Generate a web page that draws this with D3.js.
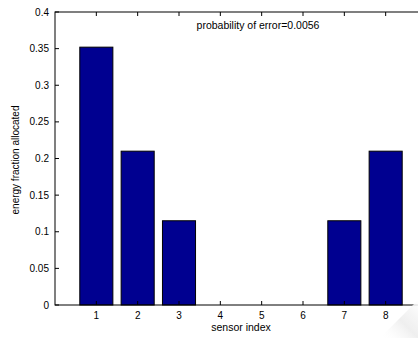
<!DOCTYPE html>
<html><head><meta charset="utf-8">
<script src="https://cdn.jsdelivr.net/npm/d3@7/dist/d3.min.js"></script>
<style>body{margin:0;background:#fff;overflow:hidden}svg{display:block}text{font-family:"Liberation Sans",Arial,sans-serif;fill:#000}</style>
</head><body>
<script>
const sensors = [1,2,3,4,5,6,7,8];
const energy = [0.352,0.21,0.115,0,0,0,0.115,0.21];
const yTicks = [0,0.05,0.1,0.15,0.2,0.25,0.3,0.35,0.4];
const yTickLabels = ["0","0.05","0.1","0.15","0.2","0.25","0.3","0.35","0.4"];
const title = "probability of error=0.0056";
const xLabel = "sensor index";
const yLabel = "energy fraction allocated";

const W=418,H=338;
const svg=d3.select("body").append("svg").attr("width",W).attr("height",H);
const x=d3.scaleLinear().domain([0,9]).range([55,427]);
const y=d3.scaleLinear().domain([0,0.4]).range([305,12]);
const bw=x(0.8)-x(0);

svg.append("g").selectAll("rect").data(sensors).join("rect")
  .attr("x",d=>x(d)-bw/2).attr("width",bw)
  .attr("y",(d,i)=>y(energy[i])).attr("height",(d,i)=>y(0)-y(energy[i]))
  .attr("fill","#000090").attr("stroke","#000").attr("stroke-width",1);

const g=svg.append("g").attr("stroke","#000").attr("stroke-width",1).attr("fill","none");
g.append("rect").attr("x",x(0)).attr("y",y(0.4)).attr("width",x(9)-x(0)).attr("height",y(0)-y(0.4));
sensors.forEach(s=>{
  g.append("line").attr("x1",x(s)).attr("x2",x(s)).attr("y1",y(0)).attr("y2",y(0)-4);
  g.append("line").attr("x1",x(s)).attr("x2",x(s)).attr("y1",y(0.4)).attr("y2",y(0.4)+4);
});
yTicks.forEach(t=>{
  g.append("line").attr("x1",x(0)).attr("x2",x(0)+4).attr("y1",y(t)).attr("y2",y(t));
  g.append("line").attr("x1",x(9)).attr("x2",x(9)-4).attr("y1",y(t)).attr("y2",y(t));
});

svg.append("g").selectAll("text").data(sensors).join("text")
  .attr("x",d=>x(d)).attr("y",y(0)+14).attr("text-anchor","middle").attr("font-size",10).text(d=>d);
svg.append("g").selectAll("text").data(yTicks).join("text")
  .attr("x",x(0)-6).attr("y",(d)=>y(d)+3.5).attr("text-anchor","end").attr("font-size",10).text((d,i)=>yTickLabels[i]);

svg.append("text").attr("x",258).attr("y",29).attr("text-anchor","middle").attr("font-size",10.5).text(title);
svg.append("text").attr("x",241).attr("y",331).attr("text-anchor","middle").attr("font-size",10.5).text(xLabel);
svg.append("text").attr("transform","translate(19,160) rotate(-90)").attr("text-anchor","middle").attr("font-size",10).text(yLabel);

const defs=svg.append("defs");
const lg=defs.append("linearGradient").attr("id","curl").attr("x1","0").attr("y1","1").attr("x2","1").attr("y2","0");
lg.append("stop").attr("offset","0").attr("stop-color","#fff").attr("stop-opacity",0);
lg.append("stop").attr("offset","0.5").attr("stop-color","#e8e8e8").attr("stop-opacity",0.7);
lg.append("stop").attr("offset","1").attr("stop-color","#fff").attr("stop-opacity",0.9);
svg.append("path").attr("d","M380,338 L418,300 L418,338 Z").attr("fill","url(#curl)");
</script>
</body></html>
